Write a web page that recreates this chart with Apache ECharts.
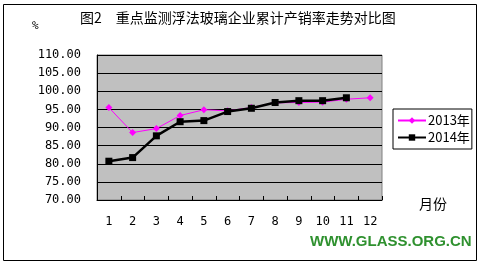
<!DOCTYPE html>
<html><head><meta charset="utf-8">
<script src="https://cdn.jsdelivr.net/npm/echarts@6/dist/echarts.min.js"></script>
<style>html,body{margin:0;padding:0;background:#fff}#c{width:482px;height:265px}</style>
</head><body><div id="c"></div>
<script>
const months = ['1','2','3','4','5','6','7','8','9','10','11','12'];
const s2013 = [95.5, 88.6, 89.7, 93.3, 94.9, 94.6, 95.5, 96.8, 96.9, 97.0, 97.8, 98.2];
const s2014 = [80.7, 81.7, 87.7, 91.6, 91.9, 94.4, 95.3, 96.9, 97.4, 97.4, 98.2];
const yTicks = [70, 110, 5];
const mono = '"DejaVu Sans Mono", "Liberation Mono", monospace';
const cjk = '"Noto Sans CJK SC", sans-serif';
const chart = echarts.init(document.getElementById('c'));
chart.setOption({
  animation: false,
  backgroundColor: '#fff',
  graphic: [
    {type: 'rect', shape: {x: 3.5, y: 4.5, width: 473, height: 256}, style: {fill: 'none', stroke: '#000', lineWidth: 1}, z: 0},
    {type: 'text', left: 80, top: 11, style: {text: '图2　重点监测浮法玻璃企业累计产销率走势对比图', font: '14px ' + cjk, fill: '#000'}},
    {type: 'text', left: 32, top: 21, style: {text: '%', font: '11px ' + mono, fill: '#000'}},
    {type: 'text', left: 419, top: 197, style: {text: '月份', font: '14px ' + cjk, fill: '#000'}},
    {type: 'text', left: 310, top: 234, style: {text: 'WWW.GLASS.ORG.CN', font: 'bold 15px "Liberation Sans", Arial, sans-serif', fill: '#2f912f'}}
  ],
  legend: {
    orient: 'vertical', left: 393, top: 109,
    padding: [5, 2, 5, 4], itemGap: 4, itemWidth: 28, itemHeight: 8,
    borderColor: '#000', borderWidth: 1, backgroundColor: '#fff',
    textStyle: {fontSize: 13, color: '#000', fontFamily: cjk, padding: [0, 0, 0, -3]},
    data: ['2013年', '2014年']
  },
  grid: {left: 97, top: 55, width: 285, height: 145, show: true, backgroundColor: '#c0c0c0', borderColor: '#808080', borderWidth: 1},
  xAxis: {
    type: 'category', data: months, boundaryGap: true,
    axisLine: {lineStyle: {color: '#000', width: 1}},
    axisTick: {show: true, inside: true, length: 4, lineStyle: {color: '#000'}},
    axisLabel: {color: '#000', fontFamily: mono, fontSize: 12, margin: 16}
  },
  yAxis: {
    type: 'value', min: yTicks[0], max: yTicks[1], interval: yTicks[2],
    axisLine: {show: true, lineStyle: {color: '#000'}},
    axisTick: {show: false},
    axisLabel: {color: '#000', fontFamily: mono, fontSize: 12, margin: 16, formatter: v => v.toFixed(2)},
    splitLine: {lineStyle: {color: '#000', width: 1}}
  },
  series: [
    {name: '2013年', type: 'line', data: s2013, color: '#ff00ff', symbol: 'diamond', symbolSize: 7,
     lineStyle: {width: 1, color: '#ff00ff'}, itemStyle: {color: '#ff00ff'}},
    {name: '2014年', type: 'line', data: s2014, color: '#000', symbol: 'rect', symbolSize: 7,
     lineStyle: {width: 2.5, color: '#000'}, itemStyle: {color: '#000'}}
  ]
});
</script></body></html>
